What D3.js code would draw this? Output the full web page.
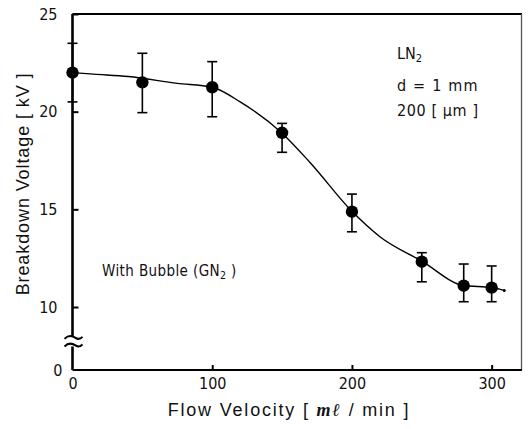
<!DOCTYPE html>
<html><head><meta charset="utf-8">
<script src="https://cdn.jsdelivr.net/npm/d3@7"></script>
<style>
html,body{margin:0;padding:0;background:#fff;}
svg{display:block;}
text{font-family:"DejaVu Sans Condensed","DejaVu Sans",sans-serif;font-stretch:condensed;fill:#111;}
</style></head>
<body>
<svg id="chart" width="532" height="429"></svg>
<script>
// ---- data ----
const flowVelocity = [0, 50, 100, 150, 200, 250, 280, 300];
const voltageMean  = [22.0, 21.5, 21.25, 18.92, 14.88, 12.32, 11.09, 10.99];
const voltageHigh  = [23.5, 22.99, 22.56, 19.40, 15.78, 12.78, 12.20, 12.10];
const voltageLow   = [20.5, 19.95, 19.74, 17.92, 13.85, 11.29, 10.27, 10.27];
const fitX = [0, 15, 40, 75, 100, 120, 150, 170, 200, 220, 250, 280, 300, 309];
const fitY = [22.0, 21.92, 21.8, 21.45, 21.25, 20.5, 18.9, 17.4, 14.9, 13.6, 12.35, 11.1, 11.0, 10.85];
const xTicks = [0, 100, 200, 300];
const yTicks = [0, 10, 15, 20, 25];

const svg = d3.select("#chart");
const x = d3.scaleLinear().domain([0, 321]).range([72.5, 521]);
const y = d3.scaleLinear().domain([0, 10, 25]).range([370, 307, 14]);

// frame
const g = svg.append("g");
g.append("line").attr("x1", x(0)).attr("x2", 522).attr("y1", y(25)).attr("y2", y(25)).attr("stroke", "#000").attr("stroke-width", 2);
g.append("line").attr("x1", 521.5).attr("x2", 521.5).attr("y1", y(25)).attr("y2", y(0)).attr("stroke", "#555").attr("stroke-width", 1.3);

// x axis
const xAxis = d3.axisBottom(x).tickValues(xTicks).tickSize(-5).tickPadding(8).tickFormat(d3.format("d"));
const gx = svg.append("g").attr("transform", `translate(0,${y(0)})`).call(xAxis);
gx.select(".domain").attr("stroke-width", 2).attr("d", `M${x(0)},0H522`);
gx.selectAll(".tick line").attr("stroke-width", 2);
gx.selectAll(".tick text").attr("font-size", 16).attr("fill", "#111");
gx.selectAll(".tick").filter(d => d === 0).select("line").remove();

// y axis (broken)
const yAxis = d3.axisLeft(y).tickValues(yTicks).tickSize(-6).tickPadding(15).tickFormat(d3.format("d"));
const gy = svg.append("g").attr("transform", `translate(${x(0)},0)`).call(yAxis);
const yb1 = y(5.1), yb2 = y(3.9);
gy.select(".domain").attr("stroke-width", 2.6)
  .attr("d", `M0,${y(25)}V${yb1 - 1}M0,${yb2 + 1}V${y(0)}`);
gy.selectAll(".tick line").attr("stroke-width", 2);
gy.selectAll(".tick text").attr("font-size", 16).attr("fill", "#111");
gy.selectAll(".tick").filter(d => d === 0).select("line").remove();
gy.selectAll(".tick").filter(d => d === 0).select("text").attr("x", -10);
// break marks
[yb1, yb2].forEach(yy => {
  gy.append("path")
    .attr("d", `M-8,${yy + 1} C-4,${yy - 3} 0,${yy - 2} 3,${yy} S8,${yy + 1} 10,${yy - 1}`)
    .attr("fill", "none").attr("stroke", "#000").attr("stroke-width", 2);
});

// axis titles
svg.append("text").attr("transform", `translate(29,${(y(25) + y(0)) / 2 - 8}) rotate(-90)`)
  .attr("text-anchor", "middle").attr("font-size", 18).attr("letter-spacing", 0.9)
  .style("font-family", "'Liberation Sans','DejaVu Sans',sans-serif").style("font-stretch", "normal")
  .text("Breakdown Voltage [ kV ]");
const xt = svg.append("text").attr("x", 289).attr("y", 416).attr("text-anchor", "middle")
  .attr("font-size", 18).attr("letter-spacing", 1.8)
  .style("font-family", "'Liberation Sans','DejaVu Sans',sans-serif").style("font-stretch", "normal");
xt.append("tspan").text("Flow Velocity [ ");
xt.append("tspan").attr("font-style", "italic").attr("font-weight", "bold").attr("font-family", "'Liberation Serif',serif").text("mℓ");
xt.append("tspan").text(" / min ]");

// fitted curve
const pts = fitX.map((v, i) => [v, fitY[i]]);
svg.append("path").datum(pts)
  .attr("d", d3.line().x(d => x(d[0])).y(d => y(d[1])).curve(d3.curveMonotoneX))
  .attr("fill", "none").attr("stroke", "#000").attr("stroke-width", 1.4);
svg.append("circle").attr("cx", x(fitX[fitX.length - 1])).attr("cy", y(fitY[fitY.length - 1])).attr("r", 1.5).attr("fill", "#000");

// error bars
const data = flowVelocity.map((v, i) => ({x: v, m: voltageMean[i], hi: voltageHigh[i], lo: voltageLow[i]}));
const eb = svg.append("g").attr("stroke", "#000").attr("stroke-width", 1.6);
data.forEach(d => {
  eb.append("line").attr("x1", x(d.x)).attr("x2", x(d.x)).attr("y1", y(d.hi)).attr("y2", y(d.lo));
  eb.append("line").attr("x1", x(d.x) - 5).attr("x2", x(d.x) + 5).attr("y1", y(d.hi)).attr("y2", y(d.hi));
  eb.append("line").attr("x1", x(d.x) - 5).attr("x2", x(d.x) + 5).attr("y1", y(d.lo)).attr("y2", y(d.lo));
});
svg.append("g").selectAll("circle").data(data).join("circle")
  .attr("cx", d => x(d.x)).attr("cy", d => y(d.m)).attr("r", 6.2).attr("fill", "#000");

// annotations
const ann = svg.append("g");
const t1 = ann.append("text").attr("x", 397).attr("y", 59).attr("font-size", 16);
t1.append("tspan").text("LN");
t1.append("tspan").attr("font-size", 11).attr("dy", 3).text("2");
ann.append("text").attr("x", 397).attr("y", 91).attr("font-size", 16).attr("letter-spacing", 1.2).text("d = 1 mm");
ann.append("text").attr("x", 397).attr("y", 116).attr("font-size", 16).attr("letter-spacing", 0.6).text("200 [ μm ]");
const t4 = ann.append("text").attr("x", 102).attr("y", 276).attr("font-size", 15).attr("letter-spacing", 0.4);
t4.append("tspan").text("With Bubble (GN");
t4.append("tspan").attr("font-size", 10.5).attr("dy", 3).text("2");
t4.append("tspan").attr("dy", -3).text(" )");
</script>
</body></html>
